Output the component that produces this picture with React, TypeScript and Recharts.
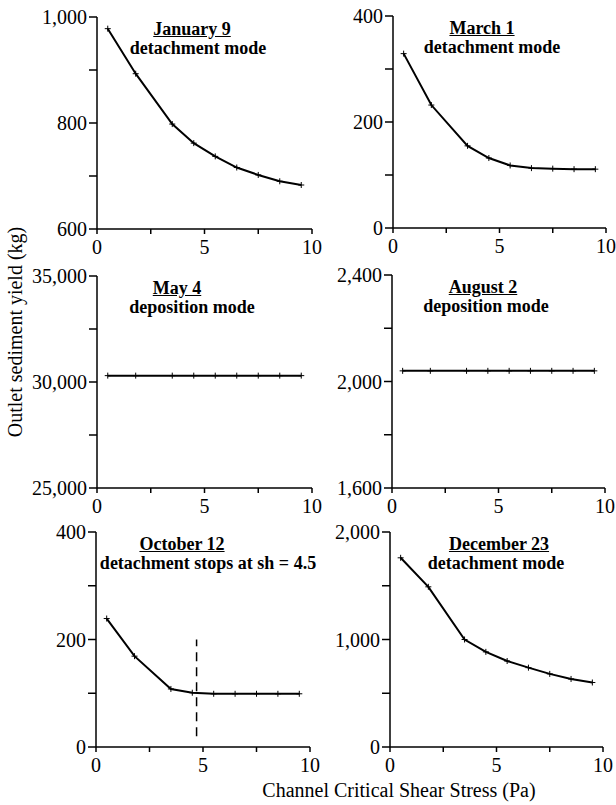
import React from "react";
import { LineChart, Line, XAxis, YAxis, ReferenceLine } from "recharts";

// Channel critical shear stress (Pa) at which each run was made
const shear = [0.5, 1.8, 3.5, 4.5, 5.5, 6.5, 7.5, 8.5, 9.5];

// Outlet sediment yield (kg) per storm
const jan9 = [978, 893, 798, 762, 737, 716, 702, 690, 683];
const mar1 = [329, 232, 155, 132, 118, 113, 112, 111, 111];
const may4 = [30300, 30300, 30300, 30300, 30300, 30300, 30300, 30300, 30300];
const aug2 = [2040, 2040, 2040, 2040, 2040, 2040, 2040, 2040, 2040];
const oct12 = [239, 169, 108, 101, 99, 99, 99, 99, 99];
const dec23 = [1760, 1490, 1000, 885, 800, 738, 680, 633, 600];

const xTicks = [0, 2.5, 5, 7.5, 10];
const janTicks = [600, 700, 800, 900, 1000];
const marTicks = [0, 100, 200, 300, 400];
const mayTicks = [25000, 27500, 30000, 32500, 35000];
const augTicks = [1600, 1800, 2000, 2200, 2400];
const octTicks = [0, 100, 200, 300, 400];
const decTicks = [0, 500, 1000, 1500, 2000];

// October: detachment stops (dashed marker)
const octCutoffX = 4.7;
const octCutoffY = [20, 200];

const FONT = '"Liberation Serif", "Times New Roman", serif';

type Panel = {
  id: string;
  values: number[];
  ticks: number[];
  title: string;
  subtitle: string;
  left: number;
  top: number;
  w: number;
  h: number;
  t1x: number;
  t2x: number;
};

const panels: Panel[] = [
  { id: "jan", values: jan9, ticks: janTicks, title: "January 9", subtitle: "detachment mode", left: 97, top: 17, w: 215, h: 212, t1x: 192, t2x: 198 },
  { id: "mar", values: mar1, ticks: marTicks, title: "March 1", subtitle: "detachment mode", left: 393, top: 16, w: 213, h: 212, t1x: 482, t2x: 492 },
  { id: "may", values: may4, ticks: mayTicks, title: "May 4", subtitle: "deposition mode", left: 97, top: 276, w: 215, h: 212, t1x: 177, t2x: 192 },
  { id: "aug", values: aug2, ticks: augTicks, title: "August 2", subtitle: "deposition mode", left: 392, top: 275, w: 213, h: 213, t1x: 483, t2x: 486 },
  { id: "oct", values: oct12, ticks: octTicks, title: "October 12", subtitle: "detachment stops at sh = 4.5", left: 96, top: 532, w: 214, h: 215, t1x: 182, t2x: 208 },
  { id: "dec", values: dec23, ticks: decTicks, title: "December 23", subtitle: "detachment mode", left: 390, top: 532, w: 213, h: 215, t1x: 499, t2x: 496 },
];

const Plus = (props: any) => {
  const { cx, cy } = props;
  if (cx == null || cy == null) return null;
  return (
    <g>
      <line x1={cx - 3} x2={cx + 3} y1={cy} y2={cy} stroke="#000" strokeWidth={1} />
      <line x1={cx} x2={cx} y1={cy - 3} y2={cy + 3} stroke="#000" strokeWidth={1} />
    </g>
  );
};

const tickStyle = { fontSize: 20, fill: "#000", fontFamily: FONT };
const axisStroke = { stroke: "#000", strokeWidth: 1.5 };

function PanelChart({ p }: { p: Panel }) {
  const data = shear.map((x, i) => ({ x, y: p.values[i] }));
  const yW = 70;
  const mTop = 10;
  const mRight = 25;
  const xH = 35;
  return (
    <>
      <div style={{ position: "absolute", left: p.left - yW, top: p.top - mTop }}>
        <LineChart
          width={yW + p.w + mRight}
          height={mTop + p.h + xH}
          data={data}
          margin={{ top: mTop, right: mRight, left: 0, bottom: 0 }}
        >
          <XAxis
            dataKey="x"
            type="number"
            domain={[0, 10]}
            ticks={xTicks}
            interval={0}
            height={xH}
            tickSize={5}
            tickMargin={6}
            tick={tickStyle}
            tickLine={axisStroke}
            axisLine={axisStroke}
            tickFormatter={(v: number) => (v % 5 === 0 ? String(v) : "")}
          />
          <YAxis
            type="number"
            domain={[p.ticks[0], p.ticks[p.ticks.length - 1]]}
            ticks={p.ticks}
            interval={0}
            width={yW}
            tickSize={8}
            tickMargin={2}
            tick={tickStyle}
            tickLine={axisStroke}
            axisLine={axisStroke}
            tickFormatter={(v: number, i: number) => (i % 2 === 0 ? v.toLocaleString("en-US") : "")}
          />
          <Line
            dataKey="y"
            stroke="#000"
            strokeWidth={2}
            dot={<Plus />}
            activeDot={false}
            isAnimationActive={false}
          />
          {p.id === "oct" && (
            <ReferenceLine
              segment={[
                { x: octCutoffX, y: octCutoffY[0] },
                { x: octCutoffX, y: octCutoffY[1] },
              ]}
              stroke="#000"
              strokeWidth={1.5}
              strokeDasharray="9 6"
            />
          )}
        </LineChart>
      </div>
      <div style={{ ...titleStyle, left: p.t1x, top: p.top + 12, textDecoration: "underline" }}>{p.title}</div>
      <div style={{ ...titleStyle, left: p.t2x, top: p.top + 31 }}>{p.subtitle}</div>
    </>
  );
}

const titleStyle: React.CSSProperties = {
  position: "absolute",
  transform: "translate(-50%, -50%)",
  whiteSpace: "nowrap",
  fontFamily: FONT,
  fontSize: 18,
  fontWeight: 700,
  lineHeight: 1,
  color: "#000",
};

export default function App() {
  return (
    <div
      style={{
        position: "absolute",
        left: 0,
        top: 0,
        width: 616,
        height: 805,
        overflow: "hidden",
        background: "#fff",
        fontFamily: FONT,
      }}
    >
      {panels.map((p) => (
        <PanelChart key={p.id} p={p} />
      ))}
      <div
        style={{
          position: "absolute",
          left: 15,
          top: 332,
          transform: "translate(-50%, -50%) rotate(-90deg)",
          whiteSpace: "nowrap",
          fontSize: 20,
          lineHeight: 1,
        }}
      >
        Outlet sediment yield (kg)
      </div>
      <div
        style={{
          position: "absolute",
          left: 399,
          top: 790,
          transform: "translate(-50%, -50%)",
          whiteSpace: "nowrap",
          fontSize: 20,
          lineHeight: 1,
        }}
      >
        Channel Critical Shear Stress (Pa)
      </div>
    </div>
  );
}
